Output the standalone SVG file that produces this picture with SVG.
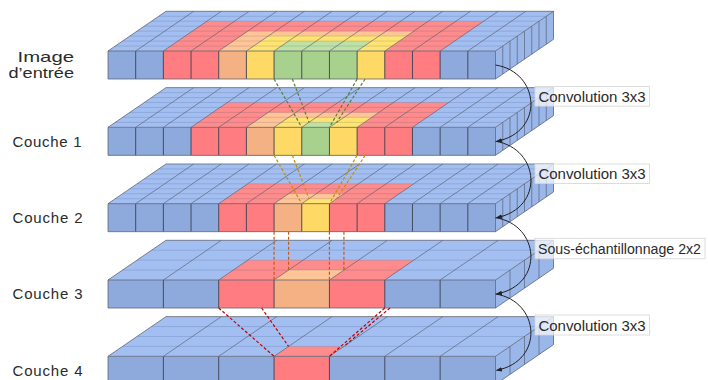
<svg xmlns="http://www.w3.org/2000/svg" width="708" height="380" viewBox="0 0 708 380">
<style>
.bt{fill:#A3BEF0}
.br{fill:#9BB6E9}
.bf{fill:#8EA9DB}
.rt{fill:#FF8C8C}.rf{fill:#FF7C80}
.pt{fill:#FFC596}.pf{fill:#F4B183}
.yt{fill:#FFE472}.yf{fill:#FFD966}
.gt{fill:#BDE2A4}.gf{fill:#A9D18E}
.diag{stroke:#4F5868;stroke-width:0.8;fill:none;stroke-opacity:0.75}
.row{stroke:#1F3864;stroke-width:0.8;fill:none;stroke-opacity:0.2}
.vl{stroke:#3A4252;stroke-width:0.9;fill:none}
.edge{stroke:#5F6675;stroke-width:0.8;fill:none}
.lbl{font-family:"Liberation Sans",Arial,sans-serif;font-size:15px;fill:#2B2B2B}
.clbl{font-family:"Liberation Sans",Arial,sans-serif;font-size:15px;fill:#2B2B2B}
.box{fill:#FFFFFF;fill-opacity:0.7;stroke:#D4D4D4;stroke-width:0.8}
.arr{fill:none;stroke:#222;stroke-width:1}
.dash{fill:none;stroke-width:1.2;stroke-dasharray:3 2}
.dg{stroke:#548235}.dy{stroke:#BF9000}.do{stroke:#C55A11}.dr{stroke:#C00000}
</style>
<defs>
<g id="block">
<path class="bt" d="M108 0H495.5L553.5 -39.7H166Z"/>
<path class="br" d="M495.5 0L553.5 -39.7V-11.7L495.5 28Z"/>
<rect class="bf" x="108" y="0" width="387.5" height="28"/>
</g>
<g id="gridS">
<path class="row" d="M115.25 -4.96h387.5M122.5 -9.93h387.5M129.75 -14.89h387.5M137 -19.85h387.5M144.25 -24.81h387.5M151.5 -29.78h387.5M158.75 -34.74h387.5"/>
<path class="diag" d="M135.68 0l58 -39.7M163.36 0l58 -39.7M191.04 0l58 -39.7M218.71 0l58 -39.7M246.39 0l58 -39.7M274.07 0l58 -39.7M301.75 0l58 -39.7M329.43 0l58 -39.7M357.11 0l58 -39.7M384.79 0l58 -39.7M412.46 0l58 -39.7M440.14 0l58 -39.7M467.82 0l58 -39.7"/>
<path class="diag" d="M502.75 -4.96v28M510 -9.93v28M517.25 -14.89v28M524.5 -19.85v28M531.75 -24.81v28M539 -29.78v28M546.25 -34.74v28"/>
<path class="vl" d="M135.68 0v28M163.36 0v28M191.04 0v28M218.71 0v28M246.39 0v28M274.07 0v28M301.75 0v28M329.43 0v28M357.11 0v28M384.79 0v28M412.46 0v28M440.14 0v28M467.82 0v28"/>
<path class="edge" d="M108 0L166 -39.7H553.5V-11.7L495.5 28H108ZM108 0H495.5L553.5 -39.7M495.5 0V28"/>
</g>
<g id="gridL">
<path class="row" d="M122.5 -9.93h387.5M137 -19.85h387.5M151.5 -29.78h387.5"/>
<path class="diag" d="M163.36 0l58 -39.7M218.71 0l58 -39.7M274.07 0l58 -39.7M329.43 0l58 -39.7M384.79 0l58 -39.7M440.14 0l58 -39.7"/>
<path class="diag" d="M510 -9.93v28M524.5 -19.85v28M539 -29.78v28"/>
<path class="vl" d="M163.36 0v28M218.71 0v28M274.07 0v28M329.43 0v28M384.79 0v28M440.14 0v28"/>
<path class="edge" d="M108 0L166 -39.7H553.5V-11.7L495.5 28H108ZM108 0H495.5L553.5 -39.7M495.5 0V28"/>
</g>
<marker id="ah" viewBox="0 0 10 10" refX="9" refY="5" markerWidth="6" markerHeight="6" orient="auto" markerUnits="userSpaceOnUse">
<path d="M0 1L10 5L0 9Z" fill="#222"/>
</marker>
</defs>

<g id="layer4">
<g transform="translate(0 356.33)">
<use href="#block"/>
<path class="rt" d="M274.07 0H329.43L343.93 -9.93H288.57Z"/>
<rect class="rf" x="274.07" y="0" width="55.36" height="28"/>
<use href="#gridL"/>
</g>
<text class="lbl" x="12.5" y="375.5" textLength="70" lengthAdjust="spacing">Couche 4</text>
</g>

<g id="layer3">
<g transform="translate(0 280)">
<use href="#block"/>
<path class="rt" d="M218.71 0H384.79L413.79 -19.85H247.71Z"/>
<path class="pt" d="M274.07 0H329.43L343.93 -9.93H288.57Z"/>
<rect class="rf" x="218.71" y="0" width="166.08" height="28"/>
<rect class="pf" x="274.07" y="0" width="55.36" height="28"/>
<use href="#gridL"/>
</g>
<text class="lbl" x="12.5" y="299.2" textLength="70" lengthAdjust="spacing">Couche 3</text>
</g>

<g id="layer2">
<g transform="translate(0 203.67)">
<use href="#block"/>
<path class="rt" d="M218.71 0H384.79L413.79 -19.85H247.71Z"/>
<path class="pt" d="M274.07 0H329.43L343.93 -9.93H288.57Z"/>
<path class="yt" d="M301.75 0H329.43L336.68 -4.96H309Z"/>
<rect class="rf" x="218.71" y="0" width="166.08" height="28"/>
<rect class="pf" x="274.07" y="0" width="27.68" height="28"/>
<rect class="yf" x="301.75" y="0" width="27.68" height="28"/>
<use href="#gridS"/>
</g>
<text class="lbl" x="12.5" y="222.8" textLength="70" lengthAdjust="spacing">Couche 2</text>
</g>

<g id="layer1">
<g transform="translate(0 127.33)">
<use href="#block"/>
<path class="rt" d="M191.04 0H412.46L448.71 -24.81H227.29Z"/>
<path class="pt" d="M246.39 0H357.11L378.86 -14.89H268.14Z"/>
<path class="yt" d="M274.07 0H357.11L371.61 -9.93H288.57Z"/>
<path class="gt" d="M301.75 0H329.43L336.68 -4.96H309Z"/>
<rect class="rf" x="191.04" y="0" width="221.42" height="28"/>
<rect class="pf" x="246.39" y="0" width="27.68" height="28"/>
<rect class="yf" x="274.07" y="0" width="83.04" height="28"/>
<rect class="gf" x="301.75" y="0" width="27.68" height="28"/>
<use href="#gridS"/>
</g>
<text class="lbl" x="12.5" y="146.5" textLength="69" lengthAdjust="spacing">Couche 1</text>
</g>

<g id="layer0">
<g transform="translate(0 51)">
<use href="#block"/>
<path class="rt" d="M163.36 0H440.14L483.64 -29.78H206.86Z"/>
<path class="pt" d="M218.71 0H384.79L413.79 -19.85H247.71Z"/>
<path class="yt" d="M246.39 0H384.79L406.54 -14.89H268.14Z"/>
<path class="gt" d="M274.07 0H357.11L371.61 -9.93H288.57Z"/>
<rect class="rf" x="163.36" y="0" width="276.78" height="28"/>
<rect class="pf" x="218.71" y="0" width="27.68" height="28"/>
<rect class="yf" x="246.39" y="0" width="138.4" height="28"/>
<rect class="gf" x="274.07" y="0" width="83.04" height="28"/>
<use href="#gridS"/>
</g>
<text class="lbl" x="17.5" y="62" textLength="56.5" lengthAdjust="spacingAndGlyphs">Image</text>
<text class="lbl" x="8.5" y="78" textLength="65.5" lengthAdjust="spacingAndGlyphs">d’entrée</text>
</g>

<g id="connectors">
<path class="dash dg" d="M274.07 79L301.75 127.33M292.37 79L309 122.37M357.11 79L329.43 127.33M365.11 79L336.68 122.37"/>
<path class="dash dy" d="M274.07 155.33L301.75 203.67M292.37 155.33L309 198.7M357.11 155.33L329.43 203.67M365.11 155.33L336.68 198.7"/>
<path class="dash do" d="M274.07 231.67V280M329.43 231.67V280M288.57 231.67V270.07M343.93 231.67V270.07"/>
<path class="dash dr" d="M218.71 308L274.07 356.33M261.63 308L288.57 346.4M384.79 308L329.43 356.33M389.98 308L343.93 346.4"/>
<path class="arr" marker-end="url(#ah)" d="M495.5 65C540 72 545 132 496.5 141.3"/>
<path class="arr" marker-end="url(#ah)" d="M495.5 141.3C540 148.3 545 208.3 496.5 217.7"/>
<path class="arr" marker-end="url(#ah)" d="M495.5 217.7C540 224.7 545 284.7 496.5 294"/>
<path class="arr" marker-end="url(#ah)" d="M495.5 294C540 301 545 361 496.5 370.3"/>
<rect class="box" x="535" y="86.6" width="114.5" height="19.5"/>
<text class="clbl" x="538.5" y="101.7" textLength="107" lengthAdjust="spacing">Convolution 3x3</text>
<rect class="box" x="535" y="164" width="114.5" height="19.5"/>
<text class="clbl" x="538.5" y="179.2" textLength="107" lengthAdjust="spacing">Convolution 3x3</text>
<rect class="box" x="535" y="238.3" width="170" height="20.5"/>
<text class="clbl" x="538" y="253.7" style="font-size:14px" textLength="163" lengthAdjust="spacingAndGlyphs">Sous-échantillonnage 2x2</text>
<rect class="box" x="535" y="315" width="114.5" height="20"/>
<text class="clbl" x="538.5" y="330.5" textLength="107" lengthAdjust="spacing">Convolution 3x3</text>
</g>
</svg>
